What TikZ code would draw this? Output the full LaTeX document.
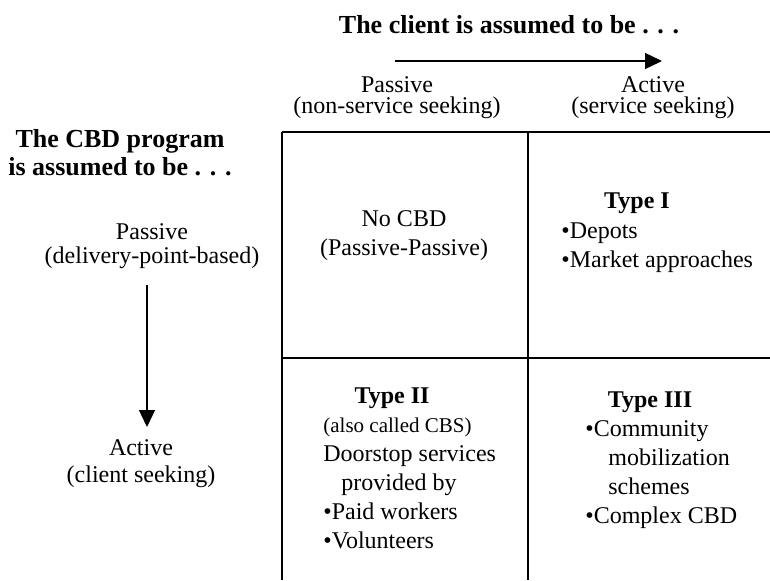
\documentclass[tikz,border=0pt]{standalone}
\usepackage{fontspec}
\setmainfont{Liberation Serif}
\usepackage{tikz}
\usetikzlibrary{arrows.meta}
\def\cellsize{\fontsize{12}{14.5}\selectfont}
\tikzset{
  heading/.style={font=\fontsize{13}{14}\selectfont\bfseries, align=center, anchor=base, inner sep=0pt},
  axislbl/.style={font=\fontsize{12}{12}\selectfont, align=center, anchor=base, inner sep=0pt},
  typename/.style={font=\fontsize{12}{14}\selectfont\bfseries, anchor=base, inner sep=0pt},
  celltext/.style={font=\cellsize, align=left, anchor=base west, inner sep=0pt},
  gridline/.style={line width=0.65pt},
  dirarrow/.style={line width=0.65pt, -{Triangle[length=8.5pt,width=8pt]}}
}

\begin{document}
\begin{tikzpicture}[x=0.5pt,y=-0.5pt]
    \useasboundingbox (0,0) rectangle (770,580);
    % the four cells, open to the right and below
    \draw[gridline] (282,132) -- (770,132) (282,358) -- (770,358)
      (282,132) -- (282,580) (528,132) -- (528,580);
    % client axis
    \node[heading] (clienthead) at (509,33) {The client is assumed to be . . .};
    \coordinate (cfrom) at (395,61);
    \coordinate (cto) at (662,61);
    \draw[dirarrow] (cfrom) -- (cto);
    \node[axislbl] (cpassive) at (397,113) {Passive\\[-1.5pt](non-service seeking)};
    \node[axislbl] (cactive) at (653,113) {Active\\[-1.5pt](service seeking)};
    % program axis
    \node[heading] (cbdhead) at (120,175) {The CBD program\\is assumed to be . . .};
    \node[axislbl] (ppassive) at (152,263) {Passive\\(delivery-point-based)};
    \coordinate (pfrom) at (147,285);
    \coordinate (pto) at (147,427);
    \draw[dirarrow] (pfrom) -- (pto);
    \node[axislbl] (pactive) at (141,482) {Active\\[1.5pt](client seeking)};
    % cells
    \node[celltext, align=center, anchor=base] (nocbd) at (404,255) {No CBD\\(Passive-Passive)};
    \node[typename] (typeone) at (637,208) {Type I};
    \node[celltext] (typeonelist) at (561,267) {•Depots\\•Market approaches};
    \node[typename] (typetwo) at (392,403) {Type II};
    \node[celltext] (typetwolist) at (323,548) {{\fontsize{10.5}{14.5}\selectfont(also called CBS)}\\Doorstop services\\\hspace{9pt}provided by\\•Paid workers\\•Volunteers};
    \node[typename] (typethree) at (650,407) {Type III};
    \node[celltext] (typethreelist) at (585,523) {•Community\\\hspace{11.5pt}mobilization\\\hspace{11.5pt}schemes\\•Complex CBD};
\end{tikzpicture}
\end{document}
